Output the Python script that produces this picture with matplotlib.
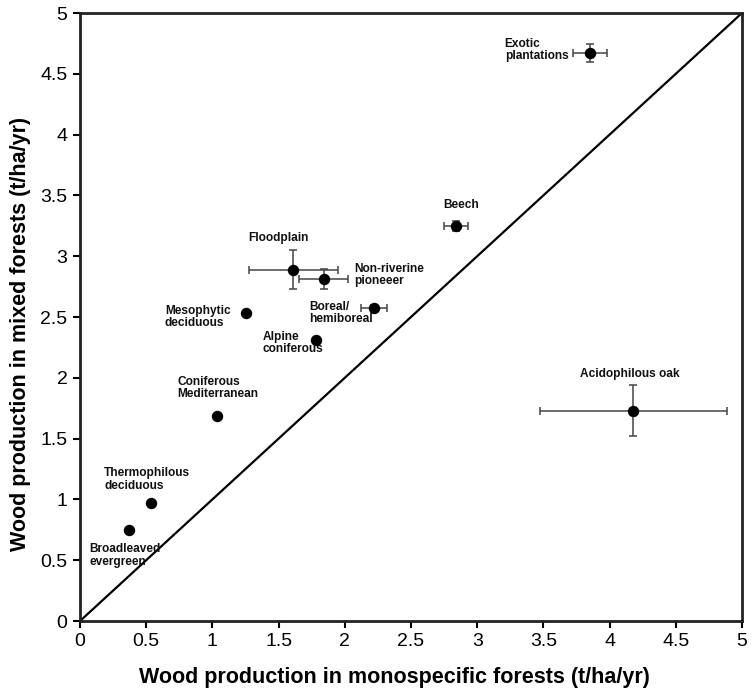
import matplotlib
matplotlib.use("Agg")
import matplotlib.pyplot as plt

# ---- data ----
names = ["Exotic\nplantations", "Beech", "Floodplain", "Non-riverine\npioneeer",
         "Boreal/\nhemiboreal", "Mesophytic\ndeciduous", "Alpine\nconiferous",
         "Coniferous\nMediterranean", "Thermophilous\ndeciduous",
         "Broadleaved\nevergreen", "Acidophilous oak"]
mono = [3.85, 2.84, 1.61, 1.84, 2.22, 1.25, 1.78, 1.035, 0.54, 0.373, 4.18]
mixed = [4.67, 3.25, 2.89, 2.815, 2.571, 2.53, 2.31, 1.686, 0.973, 0.748, 1.73]
mono_err = [0.13, 0.094, 0.336, 0.186, 0.10, 0, 0, 0, 0, 0, 0.705]
mixed_err = [0.077, 0.04, 0.158, 0.081, 0.03, 0, 0, 0, 0, 0, 0.21]
ticks = [0, 0.5, 1, 1.5, 2, 2.5, 3, 3.5, 4, 4.5, 5]
tick_labels = ["0", "0.5", "1", "1.5", "2", "2.5", "3", "3.5", "4", "4.5", "5"]

# label offsets in pixels (dx, dy), with horizontal alignment
label_pos = [(-85, 3, "left"), (5, 20.7, "center"), (-14.7, 31.3, "center"),
             (30.7, 3.7, "left"), (-65, -4.7, "left"), (-80.7, -3.7, "left"),
             (-53.3, -3, "left"), (-39.3, 28, "left"), (-47.4, 23.2, "left"),
             (-40.3, -25.5, "left"), (-3.3, 36.7, "center")]

plt.rcParams['font.family'] = ['Liberation Sans', 'DejaVu Sans']

fig = plt.figure(figsize=(7.54, 6.95), dpi=100)
ax = fig.add_axes([80/754, 1 - 621/695, 662/754, 608/695])

ax.plot([0, 5], [0, 5], color="black", lw=1.6, zorder=1)

for x, y, xe, ye in zip(mono, mixed, mono_err, mixed_err):
    if xe > 0 or ye > 0:
        ax.errorbar(x, y, xerr=xe, yerr=ye, fmt="none", ecolor="#444444",
                    elinewidth=1.1, capsize=3, capthick=1.1, zorder=2)
ax.scatter(mono, mixed, s=52, color="black", zorder=3)

px = 0.72  # points per pixel at dpi 100
for n, x, y, (dx, dy, ha) in zip(names, mono, mixed, label_pos):
    ax.annotate(n, (x, y), xytext=(dx * px, dy * px), textcoords="offset points",
                ha=ha, va="center", fontsize=8.6, fontweight="bold",
                linespacing=1.05, color="#111111")

ax.set_xlim(0, 5)
ax.set_ylim(0, 5)
ax.set_xticks(ticks)
ax.set_xticklabels(tick_labels)
ax.set_yticks(ticks)
ax.set_yticklabels(tick_labels)
ax.tick_params(direction="out", length=5, width=1.5, labelsize=14, pad=4)
for s in ax.spines.values():
    s.set_linewidth(2)
    s.set_color("#222222")

fig.text(394/754, 1 - 683/695, "Wood production in monospecific forests (t/ha/yr)",
         fontsize=15.5, fontweight="bold", ha="center", va="baseline")
fig.text(10/754, 1 - 334/695, "Wood production in mixed forests (t/ha/yr)",
         fontsize=15.5, fontweight="bold", ha="left", va="center", rotation=90)

fig.savefig("out.png", dpi=100)
